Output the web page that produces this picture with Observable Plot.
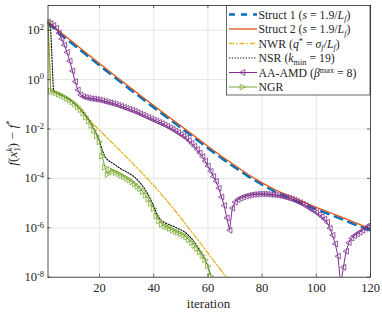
<!DOCTYPE html>
<html><head><meta charset="utf-8">
<script src="https://cdn.jsdelivr.net/npm/d3@7"></script>
<script src="https://cdn.jsdelivr.net/npm/@observablehq/plot@0.6"></script>
<style>body{margin:0;background:#fff}</style>
</head><body><div id="chart"></div><script>
// ---- data (log10 of f(x_1^k) - f*) ----
const xTicks = [20, 40, 60, 80, 100, 120];
const yTicks = [-8, -6, -4, -2, 0, 2];

const structIter = [1,5,10,15,20,25,30,35,40,45,50,55,60,65,70,75,80,85,90,95,100,105,110,115,120];
const struct1Log = [2.30,1.89,1.45,1.01,0.57,0.14,-0.29,-0.71,-1.13,-1.54,-1.95,-2.36,-2.78,-3.18,-3.56,-3.93,-4.26,-4.55,-4.80,-5.03,-5.25,-5.46,-5.68,-5.90,-6.12];
const struct2Log = [2.32,1.97,1.53,1.09,0.65,0.22,-0.21,-0.63,-1.05,-1.46,-1.87,-2.28,-2.70,-3.10,-3.48,-3.85,-4.18,-4.47,-4.72,-4.95,-5.17,-5.38,-5.60,-5.82,-6.04];

const nwrIter = [1,2,4,6,8,10,12,14,16,18,20,22,24,26,28,30,32,34,36,38,40,42,44,46,48,50,52,54,56,58,60,62,64,66,68];
const nwrLog = [2.35,-0.46,-0.54,-0.64,-0.76,-0.91,-1.10,-1.36,-1.60,-1.83,-2.05,-2.27,-2.49,-2.70,-2.92,-3.14,-3.36,-3.59,-3.82,-4.05,-4.29,-4.54,-4.79,-5.05,-5.32,-5.60,-5.88,-6.16,-6.44,-6.73,-7.02,-7.31,-7.60,-7.88,-8.16];

// iterations 1..61
const nsrLog = [
 2.35, 2.05,-0.46,-0.52,-0.57,-0.63,-0.69,-0.75,-0.82,-0.90,
-0.99,-1.09,-1.20,-1.33,-1.47,-1.63,-1.80,-2.00,-2.22,-2.48,
-2.85,-3.12,-3.25,-3.33,-3.40,-3.47,-3.55,-3.62,-3.68,-3.74,
-3.80,-3.87,-3.95,-4.06,-4.18,-4.32,-4.48,-4.67,-4.88,-5.12,
-5.40,-5.60,-5.72,-5.79,-5.84,-5.88,-5.93,-5.98,-6.03,-6.08,
-6.14,-6.22,-6.32,-6.44,-6.58,-6.74,-6.92,-7.10,-7.30,-7.55,
-7.92];

// iterations 1..120
const aaLog = [
 2.33, 2.27, 2.19, 2.08, 1.88, 1.65, 1.40, 1.10, 0.75, 0.35,
-0.08,-0.42,-0.62,-0.69,-0.72,-0.75,-0.77,-0.78,-0.80,-0.82,
-0.85,-0.88,-0.91,-0.94,-0.97,-1.00,-1.04,-1.08,-1.12,-1.16,
-1.20,-1.24,-1.28,-1.33,-1.38,-1.43,-1.48,-1.53,-1.58,-1.63,
-1.68,-1.73,-1.78,-1.83,-1.89,-1.95,-2.01,-2.08,-2.15,-2.22,
-2.29,-2.37,-2.47,-2.58,-2.70,-2.83,-2.97,-3.12,-3.30,-3.50,
-3.71,-3.92,-4.12,-4.40,-4.75,-5.10,-5.60,-6.10,-5.20,-4.96,
-4.86,-4.80,-4.75,-4.72,-4.69,-4.67,-4.65,-4.64,-4.63,-4.63,
-4.63,-4.64,-4.65,-4.66,-4.67,-4.69,-4.71,-4.74,-4.77,-4.80,
-4.84,-4.88,-4.93,-4.98,-5.04,-5.10,-5.17,-5.24,-5.31,-5.38,
-5.46,-5.55,-5.65,-5.78,-6.02,-6.30,-6.65,-7.15,-8.30,-7.60,
-6.95,-6.60,-6.42,-6.32,-6.25,-6.18,-6.10,-6.02,-5.94,-5.87];

// iterations 1..61
const ngrLog = [
 2.35,-0.46,-0.50,-0.54,-0.59,-0.64,-0.70,-0.76,-0.83,-0.91,
-1.00,-1.10,-1.22,-1.36,-1.51,-1.68,-1.86,-2.06,-2.28,-2.52,
-3.10,-3.55,-3.84,-3.66,-3.71,-3.76,-3.81,-3.87,-3.93,-3.99,
-4.06,-4.14,-4.23,-4.33,-4.42,-4.54,-4.68,-4.84,-5.02,-5.22,
-5.52,-5.72,-5.86,-5.93,-5.97,-6.03,-6.09,-6.14,-6.19,-6.24,
-6.30,-6.38,-6.48,-6.60,-6.72,-6.84,-6.98,-7.13,-7.30,-7.55,
-7.95];

const C = {s1:"#0072BD", s2:"#D95319", nwr:"#EDB120", nsr:"#000000", aa:"#7E2F8E", ngr:"#77AC30"};
const DASH = {s1: "8,6.5", nwr: "5,2,1.5,2", nsr: "1.2,1.6"};

const pairs = (ks, vs) => vs.map((v, i) => ({k: ks[i], v}));
const seq = (vs) => vs.map((v, i) => ({k: i + 1, v}));
const s1Data = pairs(structIter, struct1Log);
const s2Data = pairs(structIter, struct2Log);
const nwrData = pairs(nwrIter, nwrLog);
const nsrData = seq(nsrLog);
const aaData = seq(aaLog);
const ngrData = seq(ngrLog);

const triLeft = {draw(ctx, size){const r=Math.sqrt(size/Math.PI); ctx.moveTo(-r,0); ctx.lineTo(0.8*r,-r); ctx.lineTo(0.8*r,r); ctx.closePath();}};
const triRight = {draw(ctx, size){const r=Math.sqrt(size/Math.PI); ctx.moveTo(r,0); ctx.lineTo(-0.8*r,-r); ctx.lineTo(-0.8*r,r); ctx.closePath();}};

const W=382, H=318, mL=47.5, mR=12, mT=5, mB=41.3;
const iW = W-mL-mR, iH = H-mT-mB;
const axisCol = "#262626", gridCol = "#dcdcdc";

const chart = Plot.plot({
  width: W, height: H, marginLeft: mL, marginRight: mR, marginTop: mT, marginBottom: mB,
  style: {fontFamily: "'Liberation Serif', serif", fontSize: "12px", color: axisCol, background: "#fff"},
  x: {domain: [1, 120], label: null},
  y: {domain: [-8, 3], label: null},
  marks: [
    Plot.gridX(xTicks, {stroke: gridCol, strokeOpacity: 1, strokeWidth: 0.7}),
    Plot.gridY(yTicks, {stroke: gridCol, strokeOpacity: 1, strokeWidth: 0.7}),
    Plot.line(s1Data, {x: "k", y: "v", stroke: C.s1, strokeWidth: 2.4, strokeDasharray: DASH.s1, clip: true}),
    Plot.line(s2Data, {x: "k", y: "v", stroke: C.s2, strokeWidth: 1.3, clip: true}),
    Plot.line(nwrData, {x: "k", y: "v", stroke: C.nwr, strokeWidth: 1.3, strokeDasharray: DASH.nwr, clip: true}),
    Plot.line(nsrData, {x: "k", y: "v", stroke: C.nsr, strokeWidth: 1.1, strokeDasharray: DASH.nsr, clip: true}),
    Plot.line(aaData, {x: "k", y: "v", stroke: C.aa, strokeWidth: 1, clip: true}),
    Plot.dot(aaData, {x: "k", y: "v", symbol: triLeft, r: 2.9, stroke: C.aa, strokeWidth: 0.8, fill: "none", clip: true}),
    Plot.line(ngrData, {x: "k", y: "v", stroke: C.ngr, strokeWidth: 1, clip: true}),
    Plot.dot(ngrData, {x: "k", y: "v", symbol: triRight, r: 2.9, stroke: C.ngr, strokeWidth: 0.8, fill: "none", clip: true}),
    Plot.tickX(xTicks, {x: d => d, stroke: axisCol, strokeWidth: 0.7, insetTop: iH - 3}),
    Plot.tickX(xTicks, {x: d => d, stroke: axisCol, strokeWidth: 0.7, insetBottom: iH - 3}),
    Plot.tickY(yTicks, {y: d => d, stroke: axisCol, strokeWidth: 0.7, insetRight: iW - 3}),
    Plot.tickY(yTicks, {y: d => d, stroke: axisCol, strokeWidth: 0.7, insetLeft: iW - 3}),
    Plot.frame({stroke: axisCol, strokeWidth: 0.8}),
    Plot.axisX(xTicks, {tickSize: 0, tickPadding: 6, fontSize: 12.5, label: null}),
    Plot.axisY(yTicks, {tickSize: 0, tickPadding: 4, fontSize: 12.5, label: null, tickFormat: d => String(d)})
  ]
});
document.getElementById("chart").append(chart);

const svg = d3.select(chart);
// superscript tick labels 10^k
svg.selectAll('g[aria-label="y-axis tick label"] text').each(function(){
  const t = d3.select(this); const k = t.text();
  t.text("10");
  t.append("tspan").attr("dy", "-0.5em").attr("font-size", "8.5px").text(k);
});

// axis titles
svg.append("text").attr("x", 208.5).attr("y", 308).attr("text-anchor", "middle")
  .attr("font-family", "'Liberation Serif', serif").attr("font-size", 13).attr("fill", axisCol).text("iteration");

const yl = svg.append("text").attr("transform", "translate(17,143) rotate(-90)").attr("text-anchor", "middle")
  .attr("font-family", "'Liberation Serif', serif").attr("font-size", 13.5).attr("fill", axisCol);
yl.append("tspan").attr("font-style", "italic").text("f");
yl.append("tspan").text("(");
yl.append("tspan").attr("font-style", "italic").text("x");
yl.append("tspan").attr("dy", 3).attr("font-size", 9).text("1");
yl.append("tspan").attr("dx", -4.5).attr("dy", -8).attr("font-size", 9).attr("font-style", "italic").text("k");
yl.append("tspan").attr("dy", 5).text(") − ");
yl.append("tspan").attr("font-style", "italic").text("f");
yl.append("tspan").attr("dy", -5).attr("font-size", 9).text("*");

// legend
const lg = svg.append("g").attr("font-family", "'Liberation Serif', serif").attr("font-size", 11.8)
  .attr("fill", axisCol).attr("text-anchor", "start");
lg.append("rect").attr("x", 226.5).attr("y", 5.5).attr("width", 143.5).attr("height", 89.5)
  .attr("fill", "#fff").attr("stroke", axisCol).attr("stroke-width", 0.7);
const entries = [
  {c: C.s1, w: 2.4, dash: "6,6", parts: [["Struct 1 (",""],["s","i"],[" = 1.9/",""],["L","i"],["f","isub"],[")",""]]},
  {c: C.s2, w: 1.3, dash: null, parts: [["Struct 2 (",""],["s","i"],[" = 1.9/",""],["L","i"],["f","isub"],[")",""]]},
  {c: C.nwr, w: 1.3, dash: DASH.nwr, parts: [["NWR (",""],["q","i"],["*","sup"],[" = ",""],["σ","i"],["f","isub"],["/",""],["L","i"],["f","isub"],[")",""]]},
  {c: C.nsr, w: 1.1, dash: DASH.nsr, parts: [["NSR (",""],["k","i"],["min","sub"],[" = 19)",""]]},
  {c: C.aa, w: 1, dash: null, sym: triLeft, parts: [["AA-AMD (",""],["β","i"],["max","sup"],[" = 8)",""]]},
  {c: C.ngr, w: 1, dash: null, sym: triRight, parts: [["NGR",""]]}
];
entries.forEach((e, i) => {
  const y = 14.5 + i * 14.5;
  const ln = lg.append("line").attr("x1", 229).attr("x2", 257).attr("y1", y).attr("y2", y)
    .attr("stroke", e.c).attr("stroke-width", e.w);
  if (e.dash) ln.attr("stroke-dasharray", e.dash);
  if (e.sym) lg.append("path").attr("d", d3.symbol(e.sym, Math.PI * 2.9 * 2.9)()).attr("transform", `translate(242.5,${y})`)
    .attr("fill", "none").attr("stroke", e.c).attr("stroke-width", 0.8);
  const t = lg.append("text").attr("x", 258.5).attr("y", y + 4).attr("text-anchor", "start");
  let off = 0;
  e.parts.forEach(([s, st]) => {
    const sp = t.append("tspan").text(s);
    let target = 0;
    if (st === "sub" || st === "isub") { target = 2.6; sp.attr("font-size", 8.3); }
    if (st === "sup") { target = -4; sp.attr("font-size", 8.3); }
    if (st === "i" || st === "isub") sp.attr("font-style", "italic");
    if (target !== off) { sp.attr("dy", target - off); off = target; }
  });
});
</script></body></html>
